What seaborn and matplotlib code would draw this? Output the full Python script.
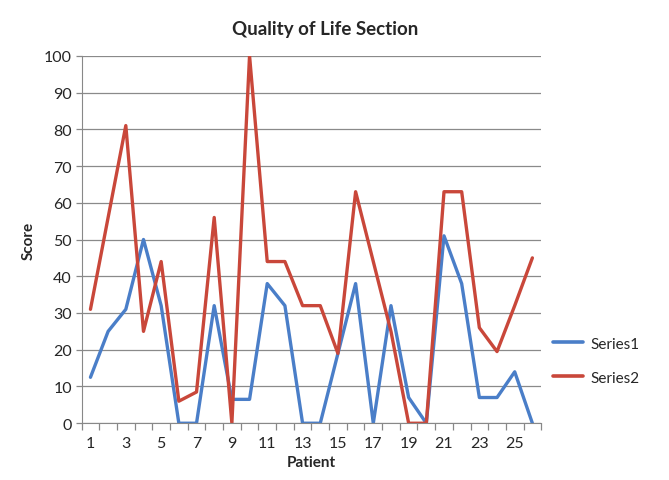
import numpy as np
import pandas as pd
import matplotlib
matplotlib.use("Agg")
import matplotlib.pyplot as plt
import seaborn as sns

patients = list(range(1, 27))
series1 = [12.5, 25, 31, 50, 32, 0, 0, 32, 6.5, 6.5, 38, 32, 0, 0, 19, 38, 0, 32, 7, 0, 51, 38, 7, 7, 14, 0]
series2 = [31, 56, 81, 25, 44, 6, 8.5, 56, 0, 100, 44, 44, 32, 32, 19, 63, 44, 25, 0, 0, 63, 63, 26, 19.5, 32, 45]
series_names = ["Series1", "Series2"]
xtick_labels = [str(i) for i in range(1, 27, 2)]

df = pd.DataFrame({
    "Patient": patients * 2,
    "Score": series1 + series2,
    "Series": [series_names[0]] * len(patients) + [series_names[1]] * len(patients),
})

sns.set_style("white")
plt.rcParams["font.family"] = ["Lato", "DejaVu Sans"]

fig = plt.figure(figsize=(6.69, 4.81), dpi=100)
ax = fig.add_axes([0.122, 0.118, 0.687, 0.764])

sns.lineplot(data=df, x="Patient", y="Score", hue="Series",
             palette=["#4A7EC8", "#C9473A"], linewidth=2.4, ax=ax)

ax.set_xlim(0.5, 26.5)
ax.set_ylim(0, 100)
ax.set_yticks(range(0, 101, 10))
ax.yaxis.grid(True, color="#8a8a8a", linewidth=0.9)
ax.set_axisbelow(True)
ax.set_xticks(range(1, 27, 2))
ax.set_xticklabels(xtick_labels, fontsize=11.5)
ax.set_xticks(np.arange(0.5, 27, 1), minor=True)
ax.tick_params(axis="x", which="major", bottom=False, length=0, pad=9)
ax.tick_params(axis="x", which="minor", bottom=True, length=5, width=0.9,
               color="#888888", direction="out")
ax.tick_params(axis="y", left=True, labelsize=11.5, length=4, width=0.9,
               color="#888888", direction="out", pad=3)

for s in ["top", "right"]:
    ax.spines[s].set_visible(False)
ax.spines["left"].set_color("#888888")
ax.spines["bottom"].set_color("#888888")

ax.set_title("Quality of Life Section", fontsize=13.5, fontweight="bold",
             pad=16, x=0.53)
ax.set_xlabel("Patient", fontsize=11, fontweight="bold", labelpad=4)
ax.set_ylabel("Score", fontsize=11, fontweight="bold", labelpad=6)

leg = ax.legend(loc="center left", bbox_to_anchor=(1.025, 0.17), frameon=False,
                fontsize=11, handlelength=2.0, handletextpad=0.5,
                borderaxespad=0, borderpad=0, labelspacing=1.3)
for line in leg.get_lines():
    line.set_linewidth(2.6)

fig.savefig("out.png", dpi=100)
